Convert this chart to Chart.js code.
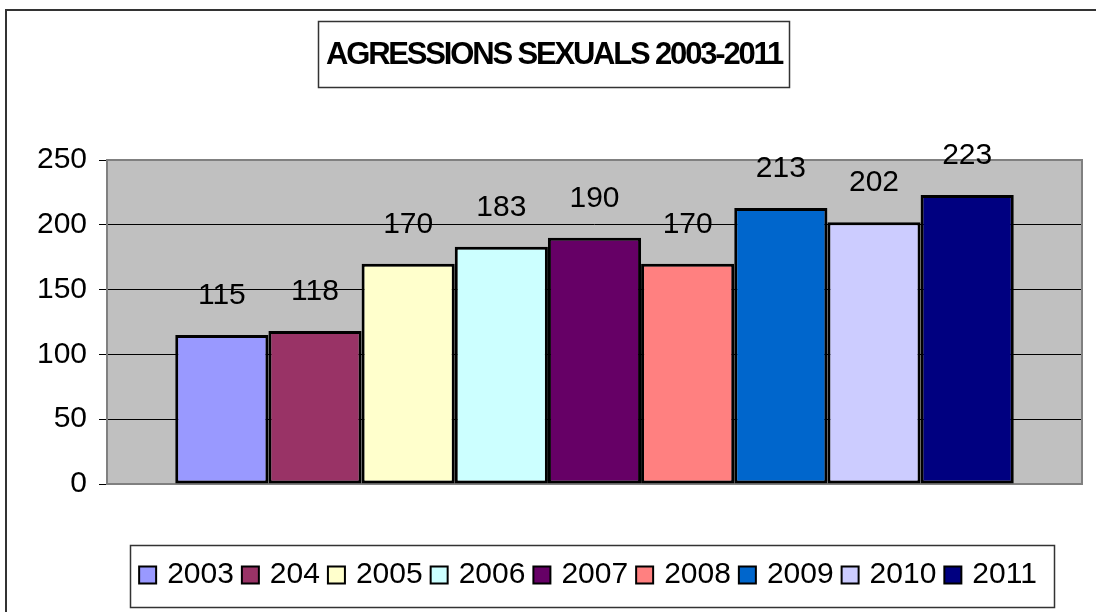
<!DOCTYPE html>
<html>
<head>
<meta charset="utf-8">
<script src="https://cdn.jsdelivr.net/npm/chart.js@4.4.0/dist/chart.umd.min.js"></script>
<style>
  html, body { margin: 0; padding: 0; background: #fff; }
  #wrap { width: 1096px; height: 612px; }
</style>
</head>
<body>
<div id="wrap"><canvas id="grafic"></canvas></div>
<script>
const titol = 'AGRESSIONS SEXUALS 2003-2011'
const anys = ['2003', '204', '2005', '2006', '2007', '2008', '2009', '2010', '2011']
const valors = [115, 118, 170, 183, 190, 170, 213, 202, 223]
const colors = ['#9999ff', '#993366', '#ffffcc', '#ccffff', '#660066', '#ff8080', '#0066cc', '#ccccff', '#000080']
const ticksY = [0, 50, 100, 150, 200, 250]

const lletra = "'Liberation Sans', Arial, sans-serif"
Chart.defaults.font.family = lletra
Chart.defaults.color = '#000'

// fons gris de la zona del grafic i marc exterior
const fons = {
    id: 'fons',
    beforeDraw(chart) {
        const {ctx, chartArea: a} = chart
        ctx.save()
        ctx.strokeStyle = '#333'
        ctx.lineWidth = 2
        ctx.beginPath()
        ctx.moveTo(6, 620)
        ctx.lineTo(6, 10)
        ctx.lineTo(1100, 10)
        ctx.stroke()
        ctx.fillStyle = '#c0c0c0'
        ctx.fillRect(a.left, a.top, a.right - a.left, a.bottom - a.top)
        ctx.restore()
    },
    beforeDatasetsDraw(chart) {
        const {ctx, chartArea: a} = chart
        ctx.save()
        ctx.strokeStyle = '#808080'
        ctx.lineWidth = 2
        ctx.strokeRect(a.left, a.top, a.right - a.left, a.bottom - a.top)
        ctx.restore()
    }
}

// valors damunt de cada barra
const etiquetes = {
    id: 'etiquetes',
    afterDatasetsDraw(chart) {
        const ctx = chart.ctx
        ctx.save()
        ctx.font = '30px ' + lletra
        ctx.fillStyle = '#000'
        ctx.textAlign = 'center'
        ctx.textBaseline = 'middle'
        chart.data.datasets.forEach((ds, i) => {
            const barra = chart.getDatasetMeta(i).data[0]
            ctx.fillText(ds.data[0], barra.x, barra.y - 39)
        })
        ctx.restore()
    }
}

// titol amb caixa i llegenda en caixa
const caixes = {
    id: 'caixes',
    afterDraw(chart) {
        const ctx = chart.ctx
        ctx.save()
        ctx.strokeStyle = '#333'
        ctx.lineWidth = 1.5
        ctx.strokeRect(318.5, 21.5, 471, 66)

        ctx.font = 'bold 31px ' + lletra
        ctx.fillStyle = '#000'
        ctx.textAlign = 'center'
        ctx.textBaseline = 'middle'
        let ample = ctx.measureText(titol).width
        if ('letterSpacing' in ctx) {
            ctx.letterSpacing = ((456 - ample) / titol.length) + 'px'
            ctx.fillText(titol, 554, 55)
        } else {
            ctx.translate(554, 55)
            ctx.scale(456 / ample, 1)
            ctx.fillText(titol, 0, 0)
        }
        ctx.restore()

        // llegenda
        ctx.save()
        ctx.font = '30px ' + lletra
        ctx.textBaseline = 'middle'
        ctx.textAlign = 'left'
        const quadre = 17, espai = 11, sep = 8
        const amples = chart.data.datasets.map(ds => ctx.measureText(ds.label).width)
        let total = amples.reduce((s, w) => s + quadre + espai + w, 0) + sep * (amples.length - 1)
        let x = 588 - total / 2
        const y = 575
        ctx.strokeStyle = '#333'
        ctx.lineWidth = 1.5
        ctx.strokeRect(Math.round(x - 9) + 0.5, 545.5, Math.round(total + 26), 62)
        chart.data.datasets.forEach((ds, i) => {
            ctx.fillStyle = ds.backgroundColor
            ctx.fillRect(x, y - 8.5, quadre, quadre)
            ctx.strokeStyle = '#000'
            ctx.lineWidth = 2
            ctx.strokeRect(x, y - 8.5, quadre, quadre)
            ctx.fillStyle = '#000'
            ctx.fillText(ds.label, x + quadre + espai, y)
            x += quadre + espai + amples[i] + sep
        })
        ctx.restore()
    }
}

let ctx = document.getElementById('grafic')
new Chart(ctx, {
    type: 'bar',
    data: {
        labels: [''],
        datasets: anys.map((a, i) => ({
            label: a,
            data: [valors[i]],
            backgroundColor: colors[i],
            borderColor: '#000',
            borderWidth: 3,
            borderSkipped: false,
            barPercentage: 1,
            categoryPercentage: 0.86
        }))
    },
    options: {
        responsive: true,
        maintainAspectRatio: false,
        animation: false,
        layout: {
            padding: {left: 0, right: 14, top: 160, bottom: 0}
        },
        scales: {
            x: {
                grid: {display: false},
                border: {display: false},
                ticks: {display: false},
                afterFit: scale => { scale.height = 128 }
            },
            y: {
                min: ticksY[0],
                max: ticksY[ticksY.length - 1],
                afterBuildTicks: scale => { scale.ticks = ticksY.map(v => ({value: v})) },
                border: {display: false},
                grid: {
                    color: c => c.tick.value === ticksY[ticksY.length - 1] || c.tick.value === 0 ? 'rgba(0,0,0,0)' : '#000',
                    tickColor: '#000',
                    tickLength: 8,
                    lineWidth: 1
                },
                ticks: {
                    padding: 12,
                    font: {size: 30},
                    color: '#000'
                },
                afterFit: scale => { scale.width = 107 }
            }
        },
        plugins: {
            title: {display: false},
            tooltip: {enabled: false},
            legend: {display: false}
        }
    },
    plugins: [fons, etiquetes, caixes]
})
</script>
</body>
</html>
